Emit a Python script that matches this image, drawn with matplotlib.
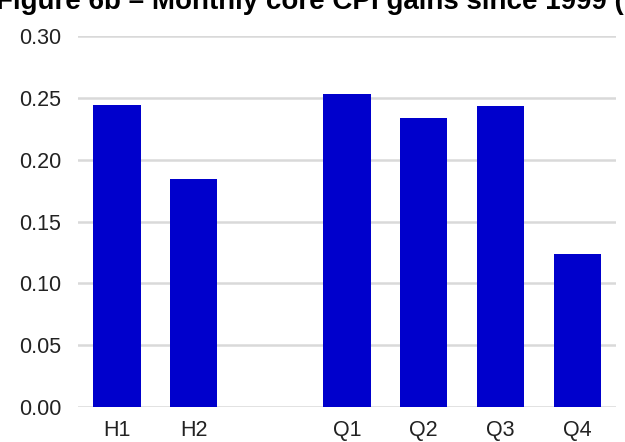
import numpy as np
import matplotlib.pyplot as plt

plt.rcParams['font.family'] = ['Liberation Sans', 'DejaVu Sans']

labels = ['H1', 'H2', '', 'Q1', 'Q2', 'Q3', 'Q4']
values = [0.244, 0.184, np.nan, 0.253, 0.234, 0.243, 0.124]
yticks = [0.00, 0.05, 0.10, 0.15, 0.20, 0.25, 0.30]

fig = plt.figure(figsize=(6.25, 4.42), dpi=100)
ax = fig.add_axes([0.1248, 0.079, 0.861, 0.8396])

x = np.arange(len(labels))
ax.bar(x, values, width=0.617, color='#0000cc', zorder=3)

ax.set_xlim(-0.506, 6.506)
ax.set_ylim(0, 0.30)
ax.set_yticks(yticks)
ax.set_yticklabels(['%.2f' % v for v in yticks])
ax.set_xticks(x)
ax.set_xticklabels(labels)
ax.grid(axis='y', color='#d9d9d9', linewidth=1.8, zorder=0)
ax.set_axisbelow(True)
for s in ax.spines.values():
    s.set_visible(False)
ax.tick_params(length=0, labelsize=15.5, colors='#222222')
ax.tick_params(axis='y', pad=12)
ax.tick_params(axis='x', pad=9)

fig.text(-0.006, 1 - 9 / 442, 'Figure 6b \u2013 Monthly core CPI gains since 1999 (%)',
         fontsize=20, fontweight='bold', ha='left', va='baseline')

fig.savefig('out.png', dpi=100)
